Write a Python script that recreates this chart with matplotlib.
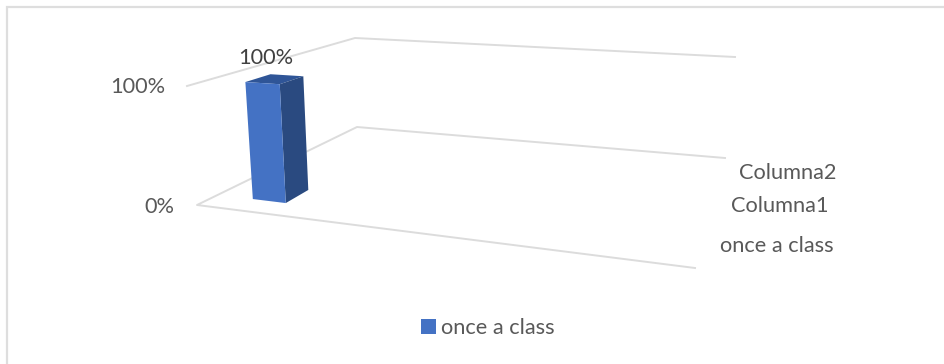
import matplotlib
matplotlib.use('Agg')
import matplotlib.pyplot as plt
from matplotlib.patches import Polygon, Patch

plt.rcParams['font.family'] = ['Lato', 'DejaVu Sans']

# data
category = 'once a class'
series_names = ['once a class', 'Columna1', 'Columna2']
values = [100]
value_ticks = [0, 100]

W, H = 945, 364
GRID = '#dcdcdc'
TEXT = '#595959'
FRONT = '#4472c4'
SIDE = '#2a4a80'
TOP = '#2f5597'

# corners of the 3d box in pixels: front-left, front-right, back-right, back-left
floor = [(197, 205), (695, 268), (725, 158), (357, 127)]
roof = [(187, 86), (707, 120), (735, 57), (355, 38)]


def plane(c, u, v):
	"""Bilinear position on a plane, u along the category axis, v into depth"""
	out = []
	for i in range(2):
		low = c[0][i] + u * (c[1][i] - c[0][i])
		high = c[3][i] + u * (c[2][i] - c[3][i])
		out.append(low + v * (high - low))
	return out


def project(u, v, pct):
	"""Screen position of a point at value pct (0-100)"""
	a = plane(floor, u, v)
	b = plane(roof, u, v)
	t = pct / 100
	return (a[0] + t * (b[0] - a[0]), a[1] + t * (b[1] - a[1]))


fig = plt.figure(figsize=(W / 100, H / 100), dpi=100)
ax = fig.add_axes([0, 0, 1, 1])
ax.set_xlim(0, W)
ax.set_ylim(H, 0)
ax.axis('off')

# chart frame, only top and left survive in the crop
ax.plot([7, 7, W], [H, 7, 7], color='#dedede', lw=1.6, solid_joinstyle='miter')

# gridlines on the 0% and 100% planes
for pct in value_ticks:
	pts = [project(1, 0, pct), project(0, 0, pct), project(0, 1, pct), project(1, 1, pct)]
	if pct == 100:
		pts = pts[1:]
	ax.plot([p[0] for p in pts], [p[1] for p in pts], color=GRID, lw=1.4, zorder=1)

# the bar
u0, u1 = 0.0725, 0.141
v0, v1 = 0.131, 0.29
val = values[0]
ax.add_patch(Polygon([project(u0, v0, val), project(u1, v0, val), project(u1, v1, val), project(u0, v1, val)],
	facecolor=TOP, edgecolor='none', zorder=3))
ax.add_patch(Polygon([project(u1, v0, 0), project(u1, v1, 0), project(u1, v1, val), project(u1, v0, val)],
	facecolor=SIDE, edgecolor='none', zorder=3))
ax.add_patch(Polygon([project(u0, v0, 0), project(u1, v0, 0), project(u1, v0, val), project(u0, v0, val)],
	facecolor=FRONT, edgecolor='none', zorder=4))

# text
fs = 15.7
for pct, x, y in zip(value_ticks, [174, 165], [207, 87]):
	ax.text(x, y, '%d%%' % pct, ha='right', va='center', fontsize=fs, color=TEXT)
ax.text(266, 58, '%d%%' % val, ha='center', va='center', fontsize=fs, color='#404040', zorder=5)
for name, x, y in zip(series_names, [720, 731, 739], [246, 206, 173]):
	ax.text(x, y, name, ha='left', va='center', fontsize=fs, color=TEXT)

ax.legend(handles=[Patch(facecolor=FRONT, label=category)], loc='center', bbox_to_anchor=(488 / W, 1 - 328 / H),
	frameon=False, fontsize=fs, labelcolor=TEXT, handlelength=0.65, handleheight=0.65, handletextpad=0.25)

fig.savefig('out.png', dpi=100)
